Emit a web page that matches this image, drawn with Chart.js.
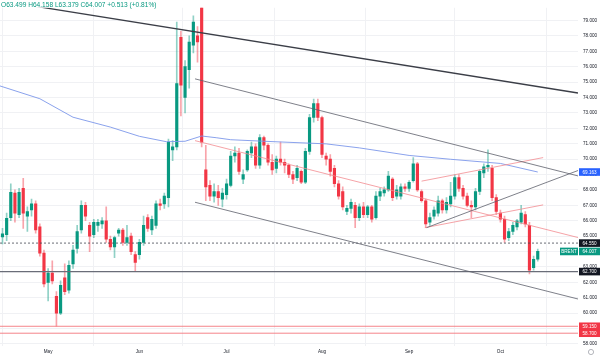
<!DOCTYPE html>
<html>
<head>
<meta charset="utf-8">
<script src="https://cdn.jsdelivr.net/npm/chart.js@4.4.1/dist/chart.umd.min.js"></script>
<style>
  html, body { margin: 0; padding: 0; background: #fff; }
  #wrap { width: 600px; height: 359px; }
</style>
</head>
<body>
<div id="wrap"><canvas id="brentChart" width="600" height="359"></canvas></div>
<script>
// daily candles, 15 Apr .. 14 Oct (one entry per trading day)
const opens = [
  64.95, 65.1, 66.2, 67.8, 66.4, 68.1, 66.3, 66.7, 67.1, 65.6, 63.9,
  62.0, 62.6, 61.1, 60.0, 62.3, 61.5, 63.2, 64.2, 65.4, 67.0, 65.7, 65.1, 65.7, 65.8, 66.0, 64.8, 64.3, 65.2, 65.4, 64.6, 65.0, 63.8,
  63.8, 64.6, 66.2, 65.4, 65.7, 67.1, 67.1, 67.5, 70.6, 70.8, 77.9, 74.0, 75.8, 77.4, 78.0, 79.9, 69.3, 68.3, 67.6, 67.9, 67.4,
  67.7, 68.3, 70.2, 70.4, 68.7, 69.3, 70.4, 70.8, 69.6, 71.4, 70.9, 69.8, 69.4, 70.0, 69.8, 69.6, 69.0, 68.8, 69.2, 68.5, 70.5, 72.7, 73.6,
  72.7, 70.2, 70.0, 69.4, 68.4, 67.9, 66.6, 66.8, 67.0, 66.2, 66.9, 66.4, 66.9, 66.2, 67.6, 67.8, 68.0, 68.7, 67.6, 67.6, 68.2,
  68.1, 68.6, 69.7, 67.9, 67.3, 65.9, 66.3, 66.5, 67.3, 66.7, 67.1, 67.6, 68.8, 68.1, 67.6, 67.0, 66.9, 67.9, 69.1, 69.5, 69.4, 67.5,
  66.5, 66.1, 64.9, 65.3, 65.6, 65.9, 66.4, 65.7, 62.95, 63.499
];
const highs = [
  65.5, 66.5, 68.4, 68.0, 68.1, 68.75, 66.9, 67.4, 67.3, 65.8, 64.1,
  62.9, 63.4, 61.4, 62.1, 63.2, 63.4, 64.4, 65.7, 67.3, 67.2, 65.9, 66.1, 66.1, 66.2, 66.9, 65.0, 65.0, 65.5, 65.5, 65.7, 65.2, 64.0,
  64.8, 66.3, 66.4, 66.3, 67.3, 67.4, 67.8, 71.3, 71.2, 78.9, 78.3, 76.4, 78.0, 79.3, 78.6, 81.5, 70.9, 68.6, 68.4, 68.3, 68.1,
  68.7, 70.5, 70.8, 70.7, 69.3, 70.6, 71.1, 71.0, 71.6, 71.5, 71.0, 70.3, 70.2, 71.1, 70.0, 69.7, 69.2, 69.6, 69.3, 70.7, 72.9, 73.9, 73.9,
  72.8, 70.4, 70.3, 69.6, 68.6, 68.2, 67.0, 67.4, 67.2, 67.1, 67.2, 67.0, 67.0, 67.9, 68.1, 68.2, 69.2, 68.8, 68.3, 68.4, 68.4,
  68.6, 70.1, 69.8, 68.0, 67.4, 66.5, 66.9, 67.6, 67.4, 67.5, 68.5, 69.0, 69.0, 68.3, 67.8, 67.3, 68.1, 69.3, 69.7, 70.6, 69.6, 67.7,
  66.7, 66.3, 65.5, 65.9, 66.1, 67.0, 66.6, 65.9, 63.7, 64.158
];
const lows = [
  64.5, 64.7, 66.0, 65.9, 66.2, 65.5, 65.3, 66.3, 65.2, 63.7, 61.7,
  60.8, 61.9, 59.15, 59.9, 61.2, 61.3, 62.9, 63.9, 65.2, 66.0, 64.0, 64.9, 65.3, 65.5, 64.6, 64.1, 63.6, 65.0, 64.4, 64.4, 63.8, 62.75,
  63.5, 64.4, 65.3, 65.1, 65.5, 66.7, 66.8, 66.9, 69.9, 70.6, 72.8, 73.0, 74.6, 76.9, 76.3, 70.8, 67.3, 67.3, 67.2, 67.0, 66.9,
  67.4, 68.2, 69.8, 69.0, 68.4, 69.2, 70.1, 69.4, 69.4, 70.6, 69.6, 69.0, 69.1, 69.6, 69.1, 68.8, 68.4, 68.6, 68.4, 68.4, 70.3, 72.4, 72.5,
  70.1, 69.6, 68.9, 68.2, 67.4, 66.7, 66.4, 66.5, 65.55, 66.0, 66.2, 66.2, 65.9, 66.1, 67.3, 67.6, 67.9, 67.3, 67.4, 67.4, 67.9,
  67.9, 68.5, 67.9, 67.2, 65.55, 65.7, 66.1, 66.3, 66.5, 66.5, 66.9, 67.4, 67.9, 67.4, 66.9, 66.2, 66.7, 67.7, 68.8, 69.2, 67.3, 66.4,
  65.9, 64.6, 64.7, 65.1, 65.4, 65.8, 65.6, 62.55, 62.8, 63.379
];
const closes = [
  65.15, 66.15, 67.85, 66.5, 67.85, 66.5, 66.6, 67.1, 65.4, 63.9, 61.9,
  62.6, 62.1, 60.0, 61.8, 61.4, 63.1, 64.1, 65.3, 67.0, 66.3, 65.0, 65.9, 65.9, 66.0, 64.8, 64.3, 64.9, 65.4, 64.6, 64.9, 64.0, 63.3,
  64.6, 65.7, 65.5, 66.1, 67.1, 67.0, 67.6, 71.1, 70.8, 74.9, 74.8, 76.0, 77.6, 78.9, 77.6, 71.1, 68.2, 67.6, 67.9, 67.5, 67.8,
  68.4, 70.2, 70.4, 69.2, 69.0, 70.5, 70.8, 69.6, 71.4, 70.9, 69.8, 69.3, 70.0, 69.8, 69.6, 69.0, 68.7, 69.4, 68.5, 70.5, 72.7, 73.6, 72.7,
  70.3, 70.0, 69.2, 68.4, 67.6, 66.9, 66.8, 67.2, 66.2, 66.9, 66.4, 66.9, 66.1, 67.6, 67.9, 68.0, 68.9, 67.5, 68.0, 68.2, 68.1,
  68.5, 69.7, 68.0, 67.3, 65.8, 66.2, 66.7, 67.3, 66.7, 67.2, 67.6, 68.8, 68.1, 67.6, 67.0, 66.9, 67.9, 69.2, 69.5, 69.6, 67.5, 66.6,
  66.1, 64.8, 65.3, 65.7, 66.0, 66.5, 65.8, 62.8, 63.494, 64.007
];

// time axis: bar index of the first session of each month
const monthTicks = [11, 33, 54, 77, 98, 120];
const monthLabels = ['May', 'Jun', 'Jul', 'Aug', 'Sep', 'Oct'];

// price axis
const yTicks = [58, 59, 60, 61, 62, 63, 64, 65, 66, 67, 68, 69, 70, 71, 72, 73, 74, 75, 76, 77, 78, 79];

// moving average (bar index, price)
const maIdx = [-0.6, 9, 17, 26, 33, 39.5, 44, 48, 51.5, 55, 63, 78, 86, 98, 108, 120, 129];
const maVal = [74.75, 73.92, 72.72, 72.08, 71.48, 71.13, 71.16, 71.5, 71.39, 71.26, 71.16, 70.99, 70.73, 70.24, 69.99, 69.72, 69.163];

// drawn trend lines: [startIndex, startPrice, endIndex, endPrice]
const longTrend = [-0.6, 80.29, 138.7, 74.29];
const channelTop = [46.4, 75.21, 138.7, 68.91];
const channelBottom = [46.4, 67.2, 138.7, 60.92];
const risingSupport = [102.2, 65.55, 138.7, 69.26];
const redTrend = [46.4, 71.2, 138.7, 64.91];
const redRiseTop = [101.0, 68.57, 130.3, 70.1];
const redRiseBottom = [101.8, 65.55, 130.3, 67.03];

// horizontal levels
const levelDashed = 64.55;
const levelSupport = 62.7;
const levelsRed = [59.15, 58.7];

// right-axis tags
const tagValues = [69.163, 64.55, 64.007, 62.7, 59.15, 58.7];
const headerText = 'O63.499 H64.158 L63.379 C64.007 +0.513 (+0.81%)';

const X_MIN = -0.6, X_MAX = 138.7;
const UP = '#089981', DOWN = '#f23645';
const FONT = '"Liberation Sans", Arial, sans-serif';

const idx = opens.map((_, i) => i);
const up = idx.map(i => closes[i] >= opens[i]);

function seg(a) {
  return [{ x: a[0], y: a[1] }, { x: a[2], y: a[3] }];
}
function flat(v) {
  return [{ x: X_MIN, y: v }, { x: X_MAX, y: v }];
}
function lineSet(data, color, width, dash, order) {
  return {
    type: 'line', data, borderColor: color, borderWidth: width, borderDash: dash || [],
    pointRadius: 0, fill: false, tension: 0, order
  };
}

const tagStyle = [
  { bg: '#2962ff', fg: '#fff' },
  { bg: '#131722', fg: '#fff' },
  { bg: UP, fg: '#fff', name: 'BRENT' },
  { bg: '#131722', fg: '#fff' },
  { bg: DOWN, fg: '#fff' },
  { bg: DOWN, fg: '#fff' }
];

const overlay = {
  id: 'overlay',
  afterDraw(chart) {
    const { ctx, scales: { y }, chartArea } = chart;
    ctx.save();
    ctx.textBaseline = 'middle';

    ctx.font = '6.6px ' + FONT;
    ctx.fillStyle = UP;
    ctx.textAlign = 'left';
    ctx.fillText(headerText, 1, 5);

    ctx.font = '4.6px ' + FONT;
    tagValues.forEach((v, k) => {
      const st = tagStyle[k];
      const py = y.getPixelForValue(v);
      ctx.fillStyle = st.bg;
      ctx.fillRect(chartArea.right + 1, py - 3.8, 21, 7.6);
      ctx.fillStyle = st.fg;
      ctx.textAlign = 'left';
      ctx.fillText(v.toFixed(3), chartArea.right + 4.5, py + 0.3);
      if (st.name) {
        ctx.fillStyle = st.bg;
        ctx.fillRect(chartArea.right - 18, py - 3.8, 18, 7.6);
        ctx.fillStyle = st.fg;
        ctx.textAlign = 'center';
        ctx.fillText(st.name, chartArea.right - 9, py + 0.3);
      }
    });

    ctx.strokeStyle = '#9598a1';
    ctx.lineWidth = 0.7;
    ctx.beginPath();
    ctx.arc(591, 352, 2.6, 0, Math.PI * 2);
    ctx.stroke();
    ctx.restore();
  }
};

new Chart(document.getElementById('brentChart'), {
  type: 'bar',
  data: {
    datasets: [
      lineSet(seg(longTrend), '#3b3e47', 1.3, null, 0),
      lineSet(seg(channelTop), '#5d606b', 0.8, null, 0),
      lineSet(seg(channelBottom), '#5d606b', 0.8, null, 0),
      lineSet(seg(risingSupport), '#5d606b', 0.8, null, 0),
      lineSet(seg(redTrend), '#f28b91', 0.8, null, 0),
      lineSet(seg(redRiseTop), '#f28b91', 0.8, null, 0),
      lineSet(seg(redRiseBottom), '#f28b91', 0.8, null, 0),
      lineSet(flat(levelDashed), '#434651', 0.8, [2, 2], 0),
      lineSet(flat(levelSupport), '#6a6d78', 1.2, null, 0),
      lineSet(flat(levelsRed[0]), '#f4767d', 0.9, null, 0),
      lineSet(flat(levelsRed[1]), '#f4767d', 0.9, null, 0),
      lineSet(maIdx.map((x, k) => ({ x, y: maVal[k] })), '#7d97ea', 0.9, null, 1),
      {
        label: 'body',
        data: idx.map(i => ({ x: i, y: [opens[i], closes[i]] })),
        backgroundColor: idx.map(i => up[i] ? UP : DOWN),
        barThickness: 2.5,
        minBarLength: 1,
        grouped: false,
        order: 2
      },
      {
        label: 'wick',
        data: idx.map(i => ({ x: i, y: [lows[i], highs[i]] })),
        backgroundColor: idx.map(i => up[i] ? 'rgba(8,153,129,0.45)' : 'rgba(242,54,69,0.45)'),
        barThickness: 1,
        grouped: false,
        order: 3
      }
    ]
  },
  options: {
    responsive: false,
    animation: false,
    devicePixelRatio: 1,
    layout: { padding: 0 },
    plugins: { legend: { display: false }, tooltip: { enabled: false } },
    scales: {
      x: {
        type: 'linear',
        min: X_MIN,
        max: X_MAX,
        offset: false,
        border: { display: false },
        grid: { color: '#f0f1f4', drawTicks: false, tickLength: 0 },
        afterBuildTicks: s => { s.ticks = monthTicks.map(v => ({ value: v })); },
        afterFit: s => { s.height = 13; },
        ticks: {
          autoSkip: false,
          maxRotation: 0,
          padding: 3,
          color: '#131722',
          font: { family: FONT, size: 4.6 },
          callback: v => monthLabels[monthTicks.indexOf(v)]
        }
      },
      y: {
        position: 'right',
        min: 57.87,
        max: 79.825,
        border: { display: false },
        grid: { color: '#f0f1f4', drawTicks: false, tickLength: 0 },
        afterBuildTicks: s => { s.ticks = yTicks.map(v => ({ value: v })); },
        afterFit: s => { s.width = 22; },
        ticks: {
          padding: 5,
          color: '#131722',
          font: { family: FONT, size: 4.6 },
          callback: v => v.toFixed(3)
        }
      }
    }
  },
  plugins: [overlay]
});
</script>
</body>
</html>
